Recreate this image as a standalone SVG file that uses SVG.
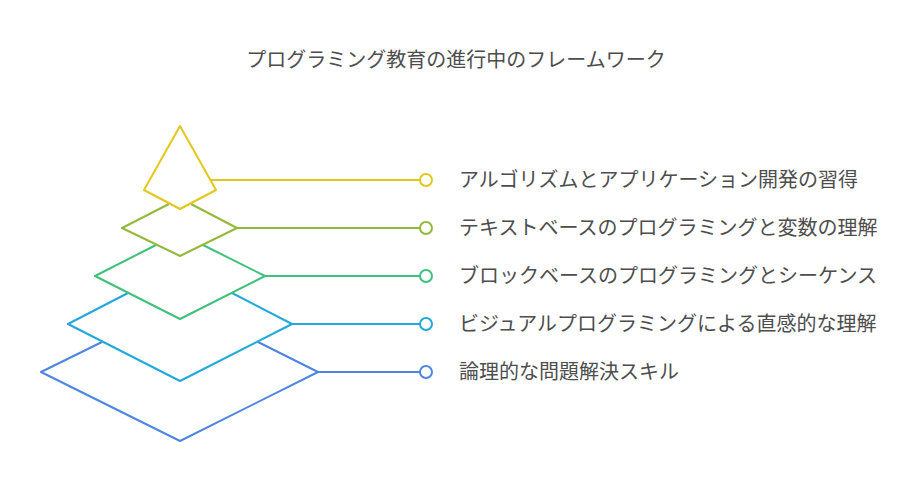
<svg xmlns="http://www.w3.org/2000/svg" width="912" height="504" viewBox="0 0 912 504">
<style>
.s{fill:none;stroke-width:2;stroke-linejoin:round}
.c{fill:#fff;stroke-width:2}
text{font-family:"Noto Sans CJK JP","Noto Sans",sans-serif;fill:#4d4d4d}
.l{font-size:20px}
.y{stroke:#e2c71c}.o{stroke:#93b93a}.g{stroke:#3fc07c}.b{stroke:#22a8da}.u{stroke:#4e86df}
</style>
<rect width="912" height="504" fill="#fff"/>
<text x="456" y="67" text-anchor="middle" font-size="20">プログラミング教育の進行中のフレームワーク</text>
<g id="layer5"><polyline class="s u" points="102,342 41,372 180,441 318,372 258,342"/></g>
<g id="layer4"><polyline class="s b" points="128,293 68,324 180,381 292,324 232,293"/></g>
<g id="layer3"><polyline class="s g" points="156,245 95,276 180,319 265,276 203,245"/></g>
<g id="layer2"><polyline class="s o" points="169,204 122,228 180,256 237,228 191,204"/></g>
<g id="layer1"><polygon class="s y" points="180,126 216,190 180,209 144,190"/></g>
<g id="connectors">
<line class="s y" x1="210" y1="180" x2="420" y2="180"/><circle class="c y" cx="426" cy="180" r="6"/>
<line class="s o" x1="237" y1="228" x2="420" y2="228"/><circle class="c o" cx="426" cy="228" r="6"/>
<line class="s g" x1="265" y1="276" x2="420" y2="276"/><circle class="c g" cx="426" cy="276" r="6"/>
<line class="s b" x1="292" y1="324" x2="420" y2="324"/><circle class="c b" cx="426" cy="324" r="6"/>
<line class="s u" x1="318" y1="372" x2="420" y2="372"/><circle class="c u" cx="426" cy="372" r="6"/>
</g>
<g id="labels">
<text class="l" x="459" y="187">アルゴリズムとアプリケーション開発の習得</text>
<text class="l" x="459" y="235">テキストベースのプログラミングと変数の理解</text>
<text class="l" x="459" y="283">ブロックベースのプログラミングとシーケンス</text>
<text class="l" x="459" y="331">ビジュアルプログラミングによる直感的な理解</text>
<text class="l" x="459" y="379">論理的な問題解決スキル</text>
</g>
</svg>
